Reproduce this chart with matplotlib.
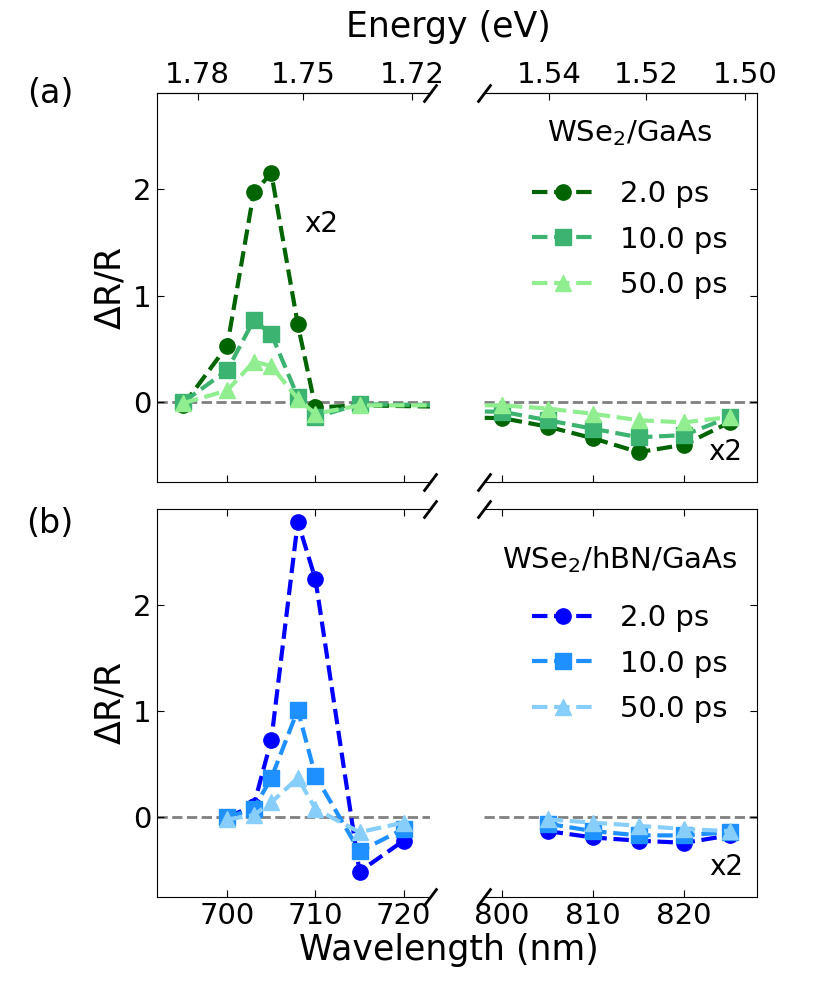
import numpy as np
import matplotlib
matplotlib.use("Agg")
import matplotlib.pyplot as plt

# panel (a): WSe2/GaAs, one trace spanning both wavelength windows
wl_a = [695, 700, 703, 705, 708, 710, 715, 800, 805, 810, 815, 820, 825]
a_2ps = [-0.03, 0.53, 1.97, 2.15, 0.73, -0.05, -0.03, -0.15, -0.23, -0.34, -0.47, -0.40, -0.19]
a_10ps = [0.0, 0.30, 0.77, 0.64, 0.05, -0.14, -0.02, -0.09, -0.17, -0.25, -0.33, -0.31, -0.14]
a_50ps = [-0.01, 0.11, 0.38, 0.34, 0.03, -0.11, -0.03, -0.03, -0.06, -0.11, -0.17, -0.19, -0.14]

# panel (b): WSe2/hBN/GaAs, two separate windows
wl_b_vis = [700, 703, 705, 708, 710, 715, 720]
b_2ps_vis = [0.0, 0.11, 0.73, 2.78, 2.24, -0.51, -0.22]
b_10ps_vis = [0.0, 0.08, 0.37, 1.01, 0.39, -0.32, -0.11]
b_50ps_vis = [-0.02, 0.02, 0.14, 0.37, 0.08, -0.14, -0.05]
wl_b_nir = [805, 810, 815, 820, 825]
b_2ps_nir = [-0.13, -0.19, -0.22, -0.24, -0.17]
b_10ps_nir = [-0.06, -0.13, -0.17, -0.17, -0.14]
b_50ps_nir = [-0.02, -0.05, -0.08, -0.11, -0.13]

delays = ["2.0 ps", "10.0 ps", "50.0 ps"]
markers = ["o", "s", "^"]
greens = ["darkgreen", "mediumseagreen", "lightgreen"]
blues = ["blue", "dodgerblue", "lightskyblue"]

vis_ticks = [700, 710, 720]
nir_ticks = [800, 810, 820]
ev_ticks_vis = [1.78, 1.75, 1.72]
ev_ticks_nir = [1.54, 1.52, 1.50]

TICK = 21
LAB = 25
LEG = 21

fig = plt.figure(figsize=(8.31, 9.81), dpi=100)

xl, wl_ = 0.1886, 0.3289
xr, wr = 0.5824, 0.3285
rows = [(0.5087, 0.396), (0.0856, 0.3955)]

axes = []
for (y0, h) in rows:
    axL = fig.add_axes([xl, y0, wl_, h])
    axR = fig.add_axes([xr, y0, wr, h])
    axL.set_xlim(692, 723)
    axR.set_xlim(798, 828)
    for ax in (axL, axR):
        ax.set_ylim(-0.75, 2.9)
        ax.set_yticks([0, 1, 2])
        ax.axhline(0, color="gray", ls="--", lw=2, zorder=0)
        ax.tick_params(direction="in", labelsize=TICK, length=5)
    axL.set_xticks(vis_ticks)
    axR.set_xticks(nir_ticks)
    axL.spines["right"].set_visible(False)
    axR.spines["left"].set_visible(False)
    axR.yaxis.tick_right()
    axR.tick_params(labelright=False)
    axL.set_ylabel(r"$\Delta$R/R", fontsize=LAB)
    # break marks
    d = [(-0.75, -1), (0.75, 1)]
    kw = dict(marker=d, markersize=13, linestyle="none", color="k", mec="k", mew=2, clip_on=False)
    axL.plot([1, 1], [0, 1], transform=axL.transAxes, **kw)
    axR.plot([0, 0], [0, 1], transform=axR.transAxes, **kw)
    axes.append((axL, axR))

(aL, aR), (bL, bR) = axes

# panel a
for ys, c, m, lab in zip([a_2ps, a_10ps, a_50ps], greens, markers, delays):
    for ax in (aL, aR):
        ax.plot(wl_a, ys, ls="--", lw=3, marker=m, ms=11, color=c, label=lab)

# panel b
for yv, yn, c, m, lab in zip([b_2ps_vis, b_10ps_vis, b_50ps_vis],
                             [b_2ps_nir, b_10ps_nir, b_50ps_nir], blues, markers, delays):
    bL.plot(wl_b_vis, yv, ls="--", lw=3, marker=m, ms=11, color=c, label=lab)
    bR.plot(wl_b_nir, yn, ls="--", lw=3, marker=m, ms=11, color=c, label=lab)

bL.tick_params(top=True)
bR.tick_params(top=True)
aL.tick_params(labelbottom=False)
aR.tick_params(labelbottom=False)

# energy axis on top of panel a
ev = lambda x: 1240.0 / x
for ax, t in ((aL, ev_ticks_vis), (aR, ev_ticks_nir)):
    sec = ax.secondary_xaxis("top", functions=(ev, ev))
    sec.set_xticks(t)
    sec.set_xticklabels([f"{v:.2f}" for v in t])
    sec.tick_params(direction="in", labelsize=TICK, length=5)
fig.text(0.540, 0.972, "Energy (eV)", fontsize=LAB, ha="center", va="center")

# legends: sample title as separate text, entries below it
aR.text(0.535, 0.898, r"WSe$_2$/GaAs", transform=aR.transAxes, fontsize=LEG,
        ha="center", va="center")
aR.legend(loc="upper left", bbox_to_anchor=(0.176, 0.777), fontsize=LEG, frameon=False,
          borderpad=0, borderaxespad=0, handlelength=2.1, handletextpad=0.9, labelspacing=0.6)
bR.text(0.496, 0.8686, r"WSe$_2$/hBN/GaAs", transform=bR.transAxes, fontsize=LEG,
        ha="center", va="center")
bR.legend(loc="upper left", bbox_to_anchor=(0.176, 0.755), fontsize=LEG, frameon=False,
          borderpad=0, borderaxespad=0, handlelength=2.1, handletextpad=0.9, labelspacing=0.6)

aL.text(710.6, 1.67, "x2", fontsize=20, ha="center", va="center")
aR.text(824.5, -0.47, "x2", fontsize=20, ha="center", va="center")
bR.text(824.6, -0.47, "x2", fontsize=20, ha="center", va="center")

fig.text(0.060, 0.905, "(a)", fontsize=24, ha="center", va="center")
fig.text(0.060, 0.466, "(b)", fontsize=24, ha="center", va="center")

fig.text(0.540, 0.032, "Wavelength (nm)", fontsize=LAB, ha="center", va="center")

fig.savefig("out.png", dpi=100)
